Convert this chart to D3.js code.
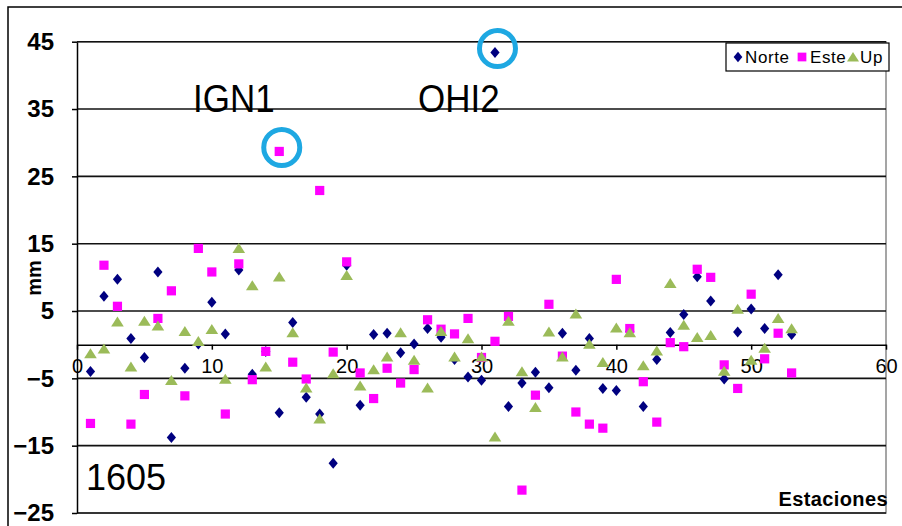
<!DOCTYPE html>
<html>
<head>
<meta charset="utf-8">
<script src="https://cdn.jsdelivr.net/npm/d3@7/dist/d3.min.js"></script>
<style>
body { margin: 0; background: #fff; }
svg { display: block; font-family: Arial, "Liberation Sans", sans-serif; }
</style>
</head>
<body>
<svg id="container" width="902" height="526"></svg>
<script>
// station numbers 1..53
var stations = d3.range(1, 54);

var norte = [-4.0, 7.2, 9.7, 0.9, -1.9, 10.8, -13.8, -3.5, 0.1, 6.3,
    1.6, 11.1, -4.4, -1.0, -10.1, 3.3, -7.8, -10.3, -17.6, 11.8,
    -9.0, 1.5, 1.7, -1.2, 0.1, 2.4, 1.1, -2.2, -4.8, -5.3,
    43.4, -9.2, -5.7, -4.1, -6.4, 1.7, -3.8, 0.9, -6.5, -6.8,
    2.0, -9.2, -2.2, 1.8, 4.5, 10.1, 6.5, -5.1, 1.9, 5.3,
    2.4, 10.4, 1.5];

var este = [-11.7, 11.8, 5.7, -11.8, -7.4, 3.9, 8.0, -7.6, 14.3, 10.8,
    -10.3, 12.0, -5.2, -1.0, 28.7, -2.6, -5.1, 22.9, -1.1, 12.3,
    -4.2, -8.0, -3.5, -5.7, -3.7, 3.7, 2.3, 1.6, 3.9, -1.9,
    0.5, 4.2, -21.6, -7.5, 6.0, -1.7, -10.0, -11.8, -12.4, 9.7,
    2.4, -5.5, -11.5, 0.3, -0.3, 11.2, 10.0, -3.0, -6.5, 7.5,
    -2.1, 1.7, -4.2];

var up = [-1.3, -0.6, 3.4, -3.3, 3.5, 2.8, -5.3, 2.0, 0.5, 2.3,
    -5.1, 14.3, 8.8, -3.3, 10.1, 1.8, -6.4, -11.0, -4.3, 10.3,
    -6.1, -3.7, -1.8, 1.8, -2.3, -6.4, 2.0, -1.8, 0.9, -1.8,
    -13.7, 3.5, -4.0, -9.3, 1.9, -1.8, 4.6, 0.1, -2.6, 2.5,
    1.8, -3.1, -0.9, 9.1, 2.9, 1.1, 1.4, -3.9, 5.3, -2.3,
    -0.5, 3.9, 2.4];

var seriesNames = ['Norte', 'Este', 'Up'];
var yTicks = [45, 35, 25, 15, 5, -5, -15, -25];
var xTicks = [0, 10, 20, 30, 40, 50, 60];

// highlighted outliers: [label, station, series index]
var outliers = [['IGN1', 15, 1], ['OHI2', 31, 0]];

var colors = ['#000080', '#ff00ff', '#9bbb59'];
var shapes = [
    'M0,-5.5L4.6,0L0,5.5L-4.6,0Z',
    'M-4.6,-4.6H4.6V4.6H-4.6Z',
    'M0,-5.3L6.3,4.7H-6.3Z'
];

const svg = d3.select('#container');
const plotLeft = 77, plotRight = 886, plotTop = 41.7, plotBottom = 513;

const x = d3.scaleLinear().domain([0, 60]).range([plotLeft, plotRight]);
const y = d3.scaleLinear().domain([-25, 45]).range([plotBottom, plotTop]);

// outer frame
svg.append('rect').attr('x', 8).attr('y', 7).attr('width', 910).attr('height', 540)
    .attr('fill', 'none').attr('stroke', '#000').attr('stroke-width', 1.5);

// plot area border (gray, right and bottom)
svg.append('path').attr('d', 'M' + plotLeft + ',' + plotTop + 'H' + plotRight + 'V' + plotBottom + 'H' + plotLeft)
    .attr('fill', 'none').attr('stroke', '#888').attr('stroke-width', 1.5);

// gridlines
svg.append('g').selectAll('line').data(yTicks).join('line')
    .attr('x1', plotLeft).attr('x2', plotRight)
    .attr('y1', d => y(d)).attr('y2', d => y(d))
    .attr('stroke', '#111').attr('stroke-width', 1.6);

// y axis
const yAxis = svg.append('g').attr('transform', 'translate(' + plotLeft + ',0)')
    .call(d3.axisLeft(y).tickValues(yTicks).tickSize(5).tickSizeOuter(0).tickPadding(17));
yAxis.select('.domain').attr('stroke', '#000').attr('stroke-width', 1.5);
yAxis.selectAll('.tick line').attr('stroke', '#000').attr('stroke-width', 1.5);
yAxis.selectAll('.tick text').attr('font-size', 24).attr('font-weight', 'bold')
    .attr('font-family', 'Arial, "Liberation Sans", sans-serif').attr('fill', '#000')
    .attr('x', -23).attr('dy', '0.32em');

// x axis crossing at zero
const xAxis = svg.append('g').attr('transform', 'translate(0,' + y(0) + ')')
    .call(d3.axisBottom(x).tickValues(xTicks).tickSize(5).tickSizeOuter(0).tickPadding(19));
xAxis.select('.domain').attr('stroke', '#000').attr('stroke-width', 1.6);
xAxis.selectAll('.tick line').attr('stroke', '#000').attr('stroke-width', 1.5);
xAxis.selectAll('.tick text').attr('font-size', 20)
    .attr('font-family', 'Arial, "Liberation Sans", sans-serif').attr('fill', '#000').attr('dy', '0.2em');

// axis titles
svg.append('text').attr('transform', 'translate(41,278) rotate(-90)')
    .attr('text-anchor', 'middle').attr('font-size', 20).attr('font-weight', 'bold').text('mm');
svg.append('text').attr('x', 888).attr('y', 506).attr('text-anchor', 'end')
    .attr('font-size', 20).attr('font-weight', 'bold').attr('letter-spacing', 0.4).text('Estaciones');

// series
[norte, este, up].forEach(function(values, si) {
    svg.append('g').selectAll('path').data(values).join('path')
        .attr('d', shapes[si])
        .attr('transform', (d, i) => 'translate(' + x(stations[i]) + ',' + y(d) + ')')
        .attr('fill', colors[si]);
});

// annotation texts (slightly condensed like the original)
svg.append('text').attr('transform', 'translate(193,112) scale(0.92,1)').attr('font-size', 38).text('IGN1');
svg.append('text').attr('transform', 'translate(418,112) scale(0.92,1)').attr('font-size', 38).text('OHI2');
svg.append('text').attr('x', 86).attr('y', 490).attr('font-size', 36).text('1605');

// outlier rings
var seriesValues = [norte, este, up];
svg.append('g').selectAll('circle').data(outliers).join('circle')
    .attr('cx', d => x(d[1]) + 2.5)
    .attr('cy', d => y(seriesValues[d[2]][d[1] - 1]) - 4)
    .attr('r', 18)
    .attr('fill', 'none').attr('stroke', '#1ea8e2').attr('stroke-width', 5);

// legend
const legend = svg.append('g');
legend.append('clipPath').attr('id', 'legclip').append('rect')
    .attr('x', 726).attr('y', 43).attr('width', 163).attr('height', 28);
legend.append('rect').attr('x', 726).attr('y', 43).attr('width', 163).attr('height', 28)
    .attr('fill', '#fff').attr('stroke', '#000').attr('stroke-width', 1.2);
var legendX = [738, 802, 853];
var legendTextX = [745, 810, 860];
const items = legend.append('g').attr('clip-path', 'url(#legclip)')
    .selectAll('g').data(seriesNames).join('g');
items.append('path').attr('d', (d, i) => shapes[i])
    .attr('transform', (d, i) => 'translate(' + legendX[i] + ',57) scale(0.95)')
    .attr('fill', (d, i) => colors[i]);
items.append('text').attr('x', (d, i) => legendTextX[i]).attr('y', 63)
    .attr('font-size', 17).attr('letter-spacing', 0.6).text(d => d);
</script>
</body>
</html>
